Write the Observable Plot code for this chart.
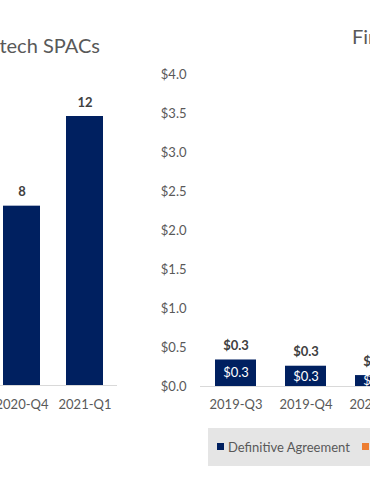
<!DOCTYPE html>
<html>
<head>
<meta charset="utf-8">
<script src="https://cdn.jsdelivr.net/npm/d3@7"></script>
<script src="https://cdn.jsdelivr.net/npm/@observablehq/plot@0.6"></script>
<style>
  html, body { margin: 0; padding: 0; background: #fff; }
  #wrap { position: relative; width: 370px; height: 488px; overflow: hidden; background: #fff; font-family: Lato, "Open Sans", sans-serif; }
  #wrap svg { position: absolute; top: 0; }
  .title { position: absolute; font-size: 20px; line-height: 20px; color: #595959; white-space: nowrap; }
  #legend { position: absolute; left: 208px; top: 428px; width: 220px; height: 38px; background: #e5e5e5; }
  .sw { position: absolute; width: 7px; height: 7px; }
  .lt { position: absolute; font-size: 13px; line-height: 13px; color: #595959; white-space: nowrap; }
</style>
</head>
<body>
<div id="wrap">
  <div class="title" style="right:270px; top:35px;">Fintech SPACs</div>
  <div class="title" style="left:352px; top:26px;">Fintech SPAC Value ($B)</div>
  <div id="legend">
    <div class="sw" style="left:9px; top:15px; background:#002060;"></div>
    <div class="lt" style="left:20px; top:13px;">Definitive Agreement</div>
    <div class="sw" style="left:154px; top:15px; background:#ED7D31;"></div>
    <div class="lt" style="left:165px; top:13px;">Closed</div>
  </div>
</div>
<script>
// Left chart: number of fintech SPACs
const leftQuarters = ["2020-Q4", "2021-Q1"];
const leftCounts = [8, 12];

// Right chart: value ($B)
const rightQuarters = ["2019-Q3", "2019-Q4", "2020-Q1"];
const definitiveAgreement = [0.34, 0.26, 0.14];
const yTickValues = [0, 0.5, 1, 1.5, 2, 2.5, 3, 3.5, 4];

const navy = "#002060";
const axisGrey = "#d9d9d9";
const textGrey = "#595959";
const labelDark = "#404040";

const leftData = leftQuarters.map((q, i) => ({q, n: leftCounts[i]}));
const rightData = rightQuarters.map((q, i) => ({q, v: definitiveAgreement[i]}));
const fmt = d3.format("$.1f");

const baseStyle = {fontFamily: "Lato, 'Open Sans', sans-serif", fontSize: "13px", color: textGrey, background: "transparent", overflow: "visible"};

const left = Plot.plot({
  width: 150, height: 488,
  marginLeft: 0, marginRight: 33, marginTop: 116, marginBottom: 103,
  x: {domain: leftQuarters, range: [-10, 116], paddingInner: 0.413, paddingOuter: 0.2065, label: null},
  y: {domain: [0, 12], axis: null, label: null},
  style: baseStyle,
  marks: [
    Plot.barY(leftData, {x: "q", y: "n", fill: navy}),
    Plot.ruleY([0], {stroke: axisGrey}),
    Plot.text(leftData, {x: "q", y: "n", text: d => String(d.n), lineAnchor: "bottom", dy: -10, fontWeight: "bold", fill: labelDark, fontSize: 13}),
    Plot.axisX({tickSize: 0, tickPadding: 14, fill: textGrey, fontSize: 13, label: null})
  ]
});
left.style.left = "0px";

const right = Plot.plot({
  width: 220, height: 488,
  marginLeft: 50, marginRight: 0, marginTop: 74, marginBottom: 102,
  x: {domain: rightQuarters, range: [50, 261.5], paddingInner: 0.42, paddingOuter: 0.21, label: null},
  y: {domain: [0, 4], label: null},
  style: baseStyle,
  marks: [
    Plot.barY(rightData, {x: "q", y: "v", fill: navy}),
    Plot.ruleY([0], {stroke: axisGrey}),
    Plot.text(rightData, {x: "q", y: "v", text: d => fmt(d.v), lineAnchor: "bottom", dy: -10, fontWeight: "bold", fill: labelDark, fontSize: 13}),
    Plot.text(rightData, {x: "q", y: d => d.v / 2, text: d => fmt(d.v), lineAnchor: "middle", fill: "white", fontSize: 13}),
    Plot.axisY({ticks: yTickValues, tickFormat: fmt, tickSize: 0, tickPadding: 14, fill: textGrey, fontSize: 13, label: null}),
    Plot.axisX({tickSize: 0, tickPadding: 13, fill: textGrey, fontSize: 13, label: null})
  ]
});
right.style.left = "150px";

const wrap = document.getElementById("wrap");
wrap.insertBefore(left, wrap.firstChild);
wrap.insertBefore(right, wrap.firstChild);
</script>
</body>
</html>
